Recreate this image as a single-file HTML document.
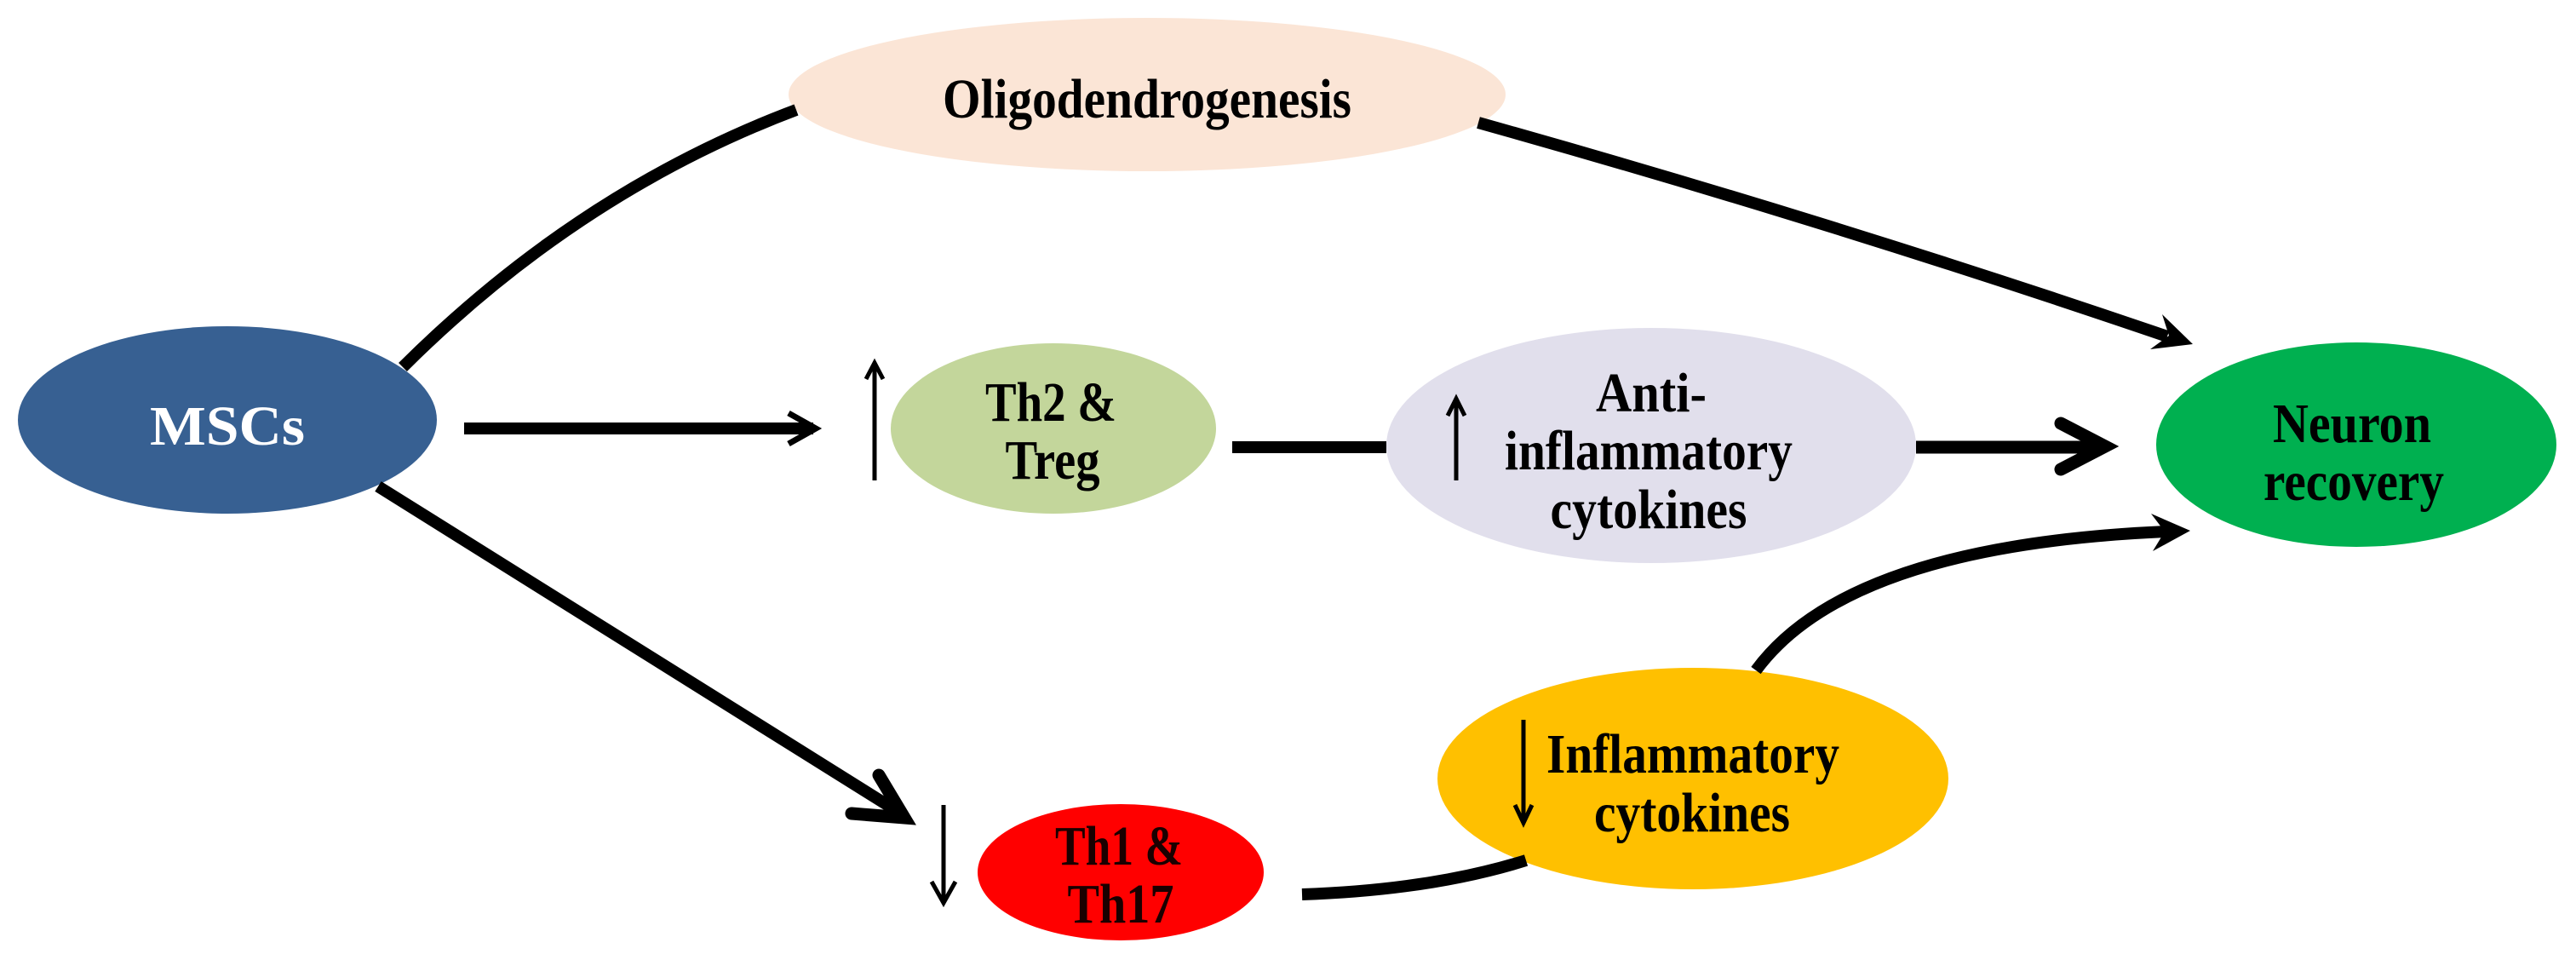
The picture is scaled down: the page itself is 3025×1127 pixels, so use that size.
<!DOCTYPE html>
<html><head><meta charset="utf-8"><style>
html,body{margin:0;padding:0;background:#fff;}
svg{display:block;}
text{font-family:"Liberation Serif",serif;font-weight:bold;font-size:66px;text-anchor:middle;}
</style></head><body>
<svg width="3025" height="1127" viewBox="0 0 3025 1127" xmlns="http://www.w3.org/2000/svg">
<ellipse cx="1347" cy="111" rx="421" ry="90" fill="#fbe5d6"/>
<ellipse cx="267" cy="493" rx="246" ry="110" fill="#376092"/>
<ellipse cx="1237" cy="503" rx="191" ry="100" fill="#c3d69b"/>
<ellipse cx="1939" cy="523" rx="311" ry="138" fill="#e1dfec"/>
<ellipse cx="2767" cy="522" rx="235" ry="120" fill="#00b050"/>
<ellipse cx="1988" cy="914" rx="300" ry="130" fill="#ffc000"/>
<ellipse cx="1316" cy="1024" rx="168" ry="80" fill="#ff0000"/>

<g fill="none" stroke="#000" stroke-width="14">
  <path d="M473,431 Q680,225 935,129"/>
  <path d="M1736,144 Q2150,260 2545,395"/>
  <path d="M545,503 L955,503"/>
  <path d="M1447,525 L1628,525"/>
  <path d="M2250,525 L2470,525" stroke-width="15"/>
  <path d="M444,571 L1050,950"/>
  <path d="M1529,1050 Q1680,1045 1792,1010"/>
  <path d="M2062,787 Q2170,640 2545,624"/>
</g>
<g fill="none" stroke="#000" stroke-linecap="round" stroke-linejoin="miter">
  <polyline points="926,485 958,503 926,521" stroke-width="7" stroke-linecap="butt"/>
  <polyline points="2420,497 2472,524 2420,551" stroke-width="15"/>
  <polyline points="1032,910 1062,960 1000,955" stroke-width="15"/>
</g>
<polygon points="2575,404 2525,410 2547,394 2539,369" fill="#000"/>
<polygon points="2572,623 2528,647 2542,624 2526,603" fill="#000"/>

<g stroke="#000" stroke-width="5" fill="none">
  <line x1="1027" y1="428" x2="1027" y2="564"/>
  <polyline points="1017,445 1027,426 1037,445"/>
  <line x1="1710" y1="470" x2="1710" y2="564"/>
  <polyline points="1700,488 1710,468 1720,488"/>
  <line x1="1108" y1="945" x2="1108" y2="1058"/>
  <polyline points="1094,1035 1108,1060 1122,1035"/>
  <line x1="1789" y1="845" x2="1789" y2="964"/>
  <polyline points="1779,945 1789,966 1799,945"/>
</g>

<text x="1347" y="138" textLength="480" lengthAdjust="spacingAndGlyphs" fill="#000">Oligodendrogenesis</text>
<text x="267" y="522" font-size="76" textLength="182" lengthAdjust="spacingAndGlyphs" fill="#fff">MSCs</text>
<text x="1234" y="494" textLength="154" lengthAdjust="spacingAndGlyphs" fill="#000">Th2 &amp;</text>
<text x="1236" y="562" textLength="111" lengthAdjust="spacingAndGlyphs" fill="#000">Treg</text>
<text x="1939" y="483" textLength="130" lengthAdjust="spacingAndGlyphs" fill="#000">Anti-</text>
<text x="1936" y="551" textLength="338" lengthAdjust="spacingAndGlyphs" fill="#000">inflammatory</text>
<text x="1936" y="620" textLength="231" lengthAdjust="spacingAndGlyphs" fill="#000">cytokines</text>
<text x="2762" y="519" textLength="186" lengthAdjust="spacingAndGlyphs" fill="#000">Neuron</text>
<text x="2764" y="587" textLength="212" lengthAdjust="spacingAndGlyphs" fill="#000">recovery</text>
<text x="1988" y="907" textLength="344" lengthAdjust="spacingAndGlyphs" fill="#000">Inflammatory</text>
<text x="1987" y="976" textLength="230" lengthAdjust="spacingAndGlyphs" fill="#000">cytokines</text>
<text x="1314" y="1015" textLength="150" lengthAdjust="spacingAndGlyphs" fill="#1a0000">Th1 &amp;</text>
<text x="1316" y="1083" textLength="125" lengthAdjust="spacingAndGlyphs" fill="#1a0000">Th17</text>
</svg>
</body></html>
